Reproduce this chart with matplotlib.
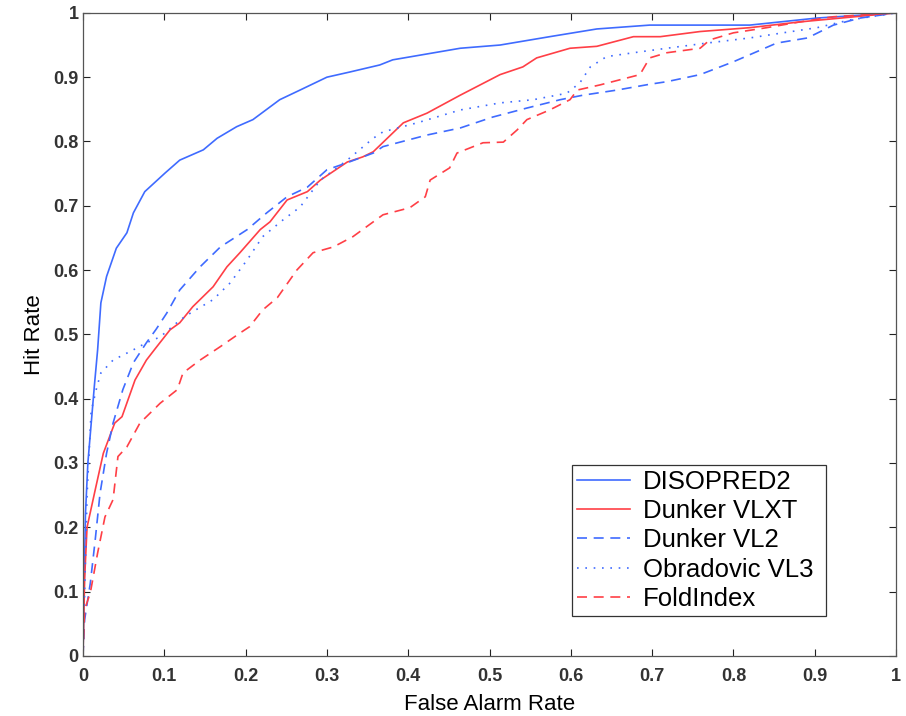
import numpy as np
import matplotlib
matplotlib.use("Agg")
from matplotlib import pyplot as plt

plt.rcParams['font.family'] = ['Liberation Sans', 'DejaVu Sans']

# ROC curves
disopred_x = [0, 0.003, 0.006, 0.01, 0.014, 0.018, 0.022, 0.029, 0.041, 0.054, 0.062, 0.076,
              0.101, 0.119, 0.148, 0.165, 0.189, 0.209, 0.242, 0.267, 0.300, 0.328, 0.365,
              0.381, 0.464, 0.513, 0.574, 0.632, 0.697, 0.820, 0.903, 1.0]
disopred_y = [0, 0.22, 0.30, 0.36, 0.42, 0.476, 0.549, 0.59, 0.634, 0.658, 0.689, 0.722,
              0.751, 0.771, 0.787, 0.805, 0.823, 0.834, 0.865, 0.880, 0.900, 0.908, 0.919,
              0.927, 0.945, 0.950, 0.963, 0.975, 0.981, 0.981, 0.992, 1.0]

vlxt_x = [0, 0.002, 0.005, 0.015, 0.025, 0.039, 0.048, 0.064, 0.078, 0.089, 0.107, 0.119,
          0.135, 0.160, 0.177, 0.193, 0.218, 0.230, 0.251, 0.276, 0.292, 0.325, 0.344,
          0.357, 0.394, 0.423, 0.464, 0.513, 0.541, 0.558, 0.599, 0.632, 0.677, 0.710,
          0.759, 0.820, 0.882, 1.0]
vlxt_y = [0, 0.12, 0.20, 0.258, 0.315, 0.362, 0.372, 0.429, 0.46, 0.478, 0.507, 0.518,
          0.543, 0.574, 0.605, 0.627, 0.663, 0.675, 0.709, 0.722, 0.740, 0.768, 0.776,
          0.784, 0.829, 0.844, 0.872, 0.904, 0.916, 0.930, 0.945, 0.948, 0.963, 0.963,
          0.971, 0.977, 0.986, 1.0]

vl2_x = [0, 0.002, 0.009, 0.015, 0.021, 0.029, 0.037, 0.049, 0.062, 0.078, 0.090, 0.103,
         0.119, 0.144, 0.169, 0.202, 0.226, 0.251, 0.276, 0.300, 0.325, 0.357, 0.369,
         0.423, 0.464, 0.504, 0.546, 0.587, 0.615, 0.657, 0.697, 0.718, 0.759, 0.800,
         0.833, 0.853, 0.891, 0.923, 0.956, 1.0]
vl2_y = [0, 0.056, 0.113, 0.18, 0.253, 0.315, 0.362, 0.414, 0.456, 0.487, 0.508, 0.533,
         0.569, 0.605, 0.636, 0.663, 0.689, 0.714, 0.729, 0.756, 0.767, 0.782, 0.792,
         0.810, 0.821, 0.838, 0.852, 0.865, 0.872, 0.880, 0.889, 0.893, 0.904, 0.924,
         0.942, 0.953, 0.961, 0.981, 0.992, 1.0]

vl3_x = [0, 0.002, 0.005, 0.01, 0.017, 0.022, 0.037, 0.062, 0.078, 0.095, 0.119, 0.132,
         0.160, 0.181, 0.202, 0.221, 0.246, 0.267, 0.292, 0.325, 0.357, 0.369, 0.411,
         0.464, 0.513, 0.554, 0.595, 0.611, 0.624, 0.644, 0.677, 0.718, 0.767, 0.820,
         0.861, 0.903, 0.943, 1.0]
vl3_y = [0, 0.10, 0.25, 0.38, 0.418, 0.44, 0.46, 0.476, 0.487, 0.496, 0.522, 0.533,
         0.554, 0.58, 0.616, 0.652, 0.678, 0.698, 0.740, 0.771, 0.805, 0.815, 0.829,
         0.849, 0.86, 0.865, 0.875, 0.891, 0.916, 0.932, 0.938, 0.945, 0.953, 0.961,
         0.969, 0.977, 0.989, 1.0]

fold_x = [0, 0.002, 0.009, 0.018, 0.027, 0.037, 0.043, 0.054, 0.070, 0.095, 0.116, 0.123,
          0.144, 0.169, 0.193, 0.205, 0.221, 0.239, 0.263, 0.283, 0.308, 0.332, 0.369,
          0.402, 0.421, 0.427, 0.451, 0.460, 0.492, 0.517, 0.534, 0.546, 0.574, 0.599,
          0.608, 0.636, 0.685, 0.697, 0.718, 0.759, 0.771, 0.800, 0.841, 0.882, 0.923, 1.0]
fold_y = [0, 0.072, 0.098, 0.16, 0.216, 0.243, 0.31, 0.325, 0.362, 0.393, 0.414, 0.44,
          0.46, 0.481, 0.502, 0.512, 0.538, 0.557, 0.600, 0.627, 0.636, 0.652, 0.686,
          0.697, 0.714, 0.740, 0.759, 0.782, 0.798, 0.799, 0.818, 0.834, 0.849, 0.865,
          0.880, 0.888, 0.904, 0.930, 0.938, 0.945, 0.958, 0.969, 0.977, 0.986, 0.994, 1.0]

blue = '#3f6bff'
red = '#ff3f46'

fig = plt.figure(figsize=(9.06, 7.16), dpi=100)
ax = fig.add_axes([0.0916, 0.084, 0.8974, 0.898])

ax.plot(disopred_x, disopred_y, color=blue, lw=1.2, label='DISOPRED2')
ax.plot(vlxt_x, vlxt_y, color=red, lw=1.2, label='Dunker VLXT')
ax.plot(vl2_x, vl2_y, color=blue, lw=1.2, dashes=(6, 4), label='Dunker VL2')
ax.plot(vl3_x, vl3_y, color=blue, lw=1.2, dashes=(1, 4), label='Obradovic VL3')
ax.plot(fold_x, fold_y, color=red, lw=1.2, dashes=(6, 4), label='FoldIndex')

ax.set_xlim(0, 1)
ax.set_ylim(0, 1)
ticks = np.arange(0, 1.01, 0.1)
labels = ['0'] + ['%.1f' % t for t in ticks[1:-1]] + ['1']
ax.set_xticks(ticks)
ax.set_xticklabels(labels)
ax.set_yticks(ticks)
ax.set_yticklabels(labels)
ax.tick_params(direction='in', top=True, right=True, length=5, width=0.8,
               labelsize=13, colors='#222222')
ax.tick_params(axis='y', pad=3)
ax.tick_params(axis='x', pad=9)
for lab in ax.get_xticklabels() + ax.get_yticklabels():
    lab.set_fontweight('bold')
    lab.set_color('#333333')
for s in ax.spines.values():
    s.set_color('#555555')
    s.set_linewidth(0.9)

ax.set_xlabel('False Alarm Rate', fontsize=16, labelpad=6)
ax.set_ylabel('Hit Rate', fontsize=16, labelpad=6)

# legend stretched to the box width seen in the reference
leg = ax.legend(loc='lower left', bbox_to_anchor=(0.6015, 0.0622, 0.3124, 0.2),
                mode='expand', fontsize=18.5,
                fancybox=False, edgecolor='#333333', framealpha=1,
                handlelength=2.05, handletextpad=0.5, labelspacing=0.2,
                borderpad=0.2, borderaxespad=0)
leg.get_frame().set_linewidth(0.9)

fig.savefig('out.png', dpi=100)
